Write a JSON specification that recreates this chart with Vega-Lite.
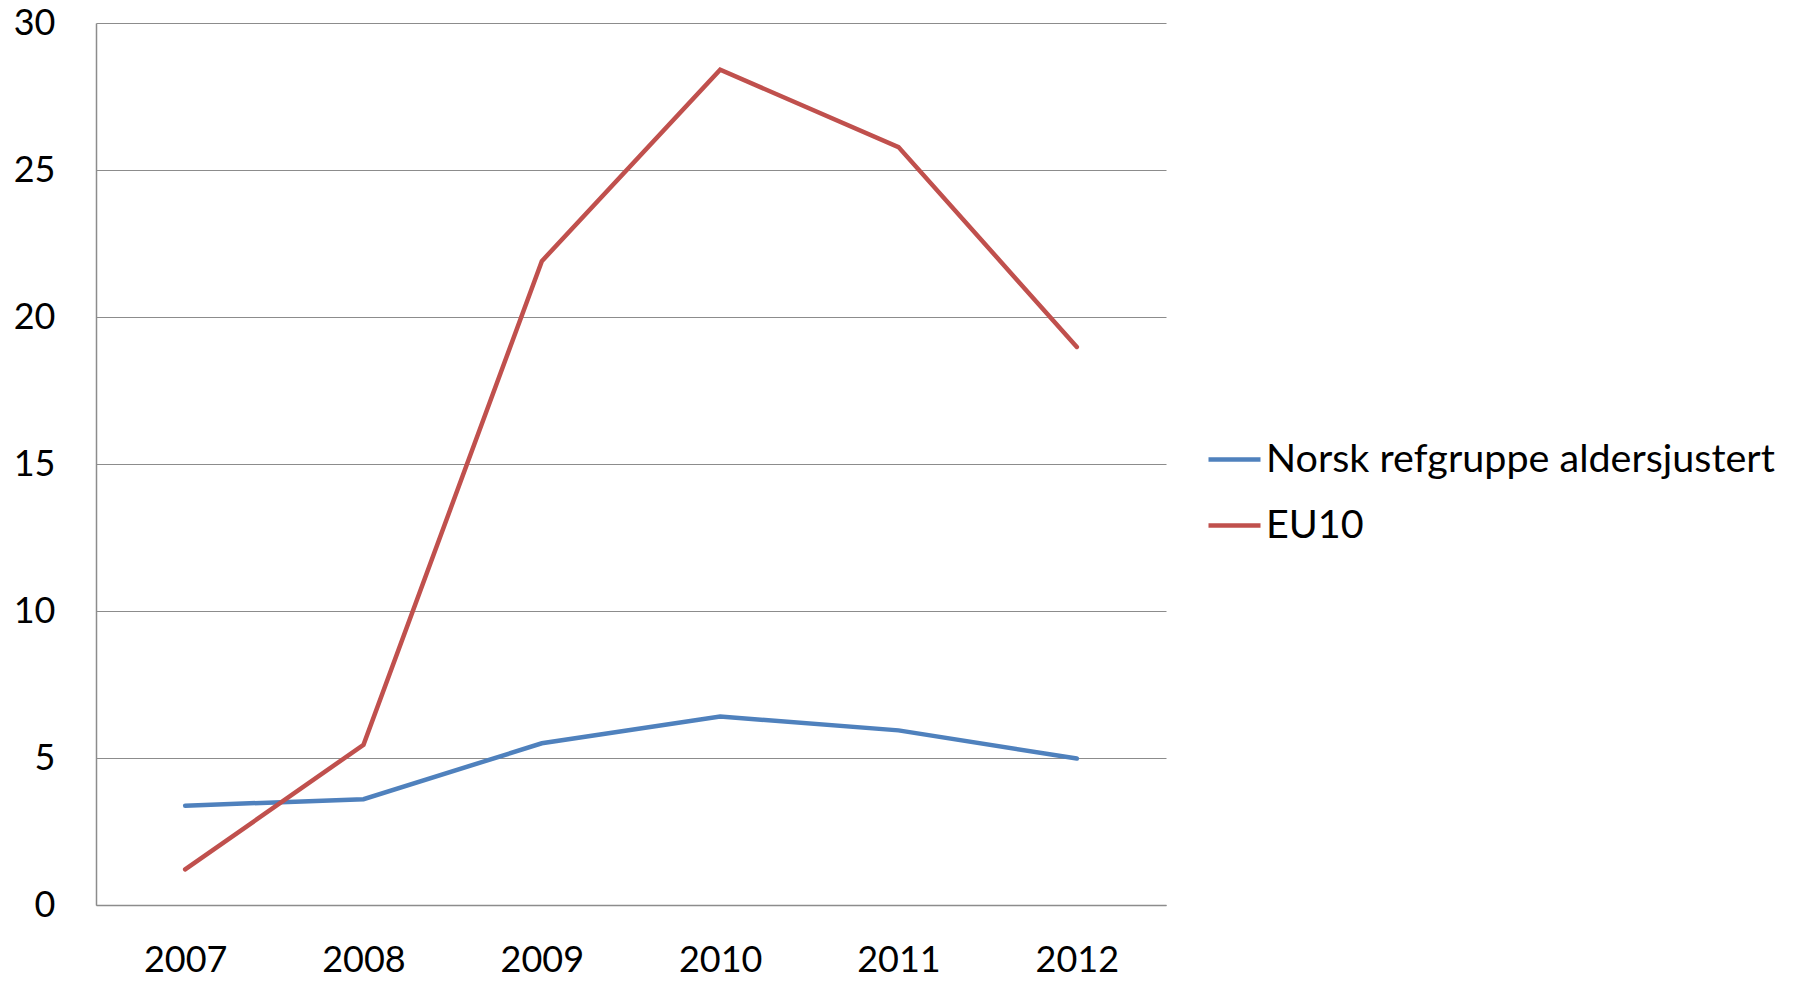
{
  "$schema": "https://vega.github.io/schema/vega-lite/v6.json",
  "autosize": {"type": "none"},
  "padding": {"left": 96, "top": 23, "right": 634, "bottom": 77},
  "width": 1070,
  "height": 882,
  "background": "white",
  "config": {
    "view": {"stroke": null},
    "font": "Lato",
    "axis": {"labelFont": "Lato", "labelFontSize": 36, "labelColor": "#000000", "ticks": false, "tickSize": 0, "title": null},
    "legend": {"labelFont": "Lato", "labelFontSize": 39.5, "labelColor": "#000000", "labelLimit": 0}
  },
  "data": {
    "values": [
      {"year": "2007", "series": "Norsk refgruppe aldersjustert", "value": 3.38},
      {"year": "2008", "series": "Norsk refgruppe aldersjustert", "value": 3.6},
      {"year": "2009", "series": "Norsk refgruppe aldersjustert", "value": 5.5},
      {"year": "2010", "series": "Norsk refgruppe aldersjustert", "value": 6.41},
      {"year": "2011", "series": "Norsk refgruppe aldersjustert", "value": 5.94},
      {"year": "2012", "series": "Norsk refgruppe aldersjustert", "value": 4.98},
      {"year": "2007", "series": "EU10", "value": 1.21},
      {"year": "2008", "series": "EU10", "value": 5.45},
      {"year": "2009", "series": "EU10", "value": 21.9},
      {"year": "2010", "series": "EU10", "value": 28.41},
      {"year": "2011", "series": "EU10", "value": 25.78},
      {"year": "2012", "series": "EU10", "value": 18.98}
    ]
  },
  "mark": {"type": "line", "strokeWidth": 4.5, "strokeCap": "round", "strokeJoin": "miter"},
  "encoding": {
    "x": {
      "field": "year",
      "type": "ordinal",
      "scale": {"type": "point", "padding": 0.5},
      "axis": {"labelAngle": 0, "labelPadding": 38, "domain": true, "domainColor": "#8c8c8c", "domainWidth": 1.5, "grid": false}
    },
    "y": {
      "field": "value",
      "type": "quantitative",
      "scale": {"domain": [0, 30], "nice": false},
      "axis": {"values": [0, 5, 10, 15, 20, 25, 30], "labelPadding": 41, "domain": true, "domainColor": "#8c8c8c", "domainWidth": 1.5, "grid": true, "gridColor": "#8c8c8c", "gridWidth": 1.2}
    },
    "color": {
      "field": "series",
      "type": "nominal",
      "sort": ["Norsk refgruppe aldersjustert", "EU10"],
      "scale": {"domain": ["Norsk refgruppe aldersjustert", "EU10"], "range": ["#4F81BD", "#C0504D"]},
      "legend": {
        "title": null,
        "orient": "none",
        "legendX": 1110,
        "legendY": 408,
        "symbolType": "stroke",
        "symbolSize": 2704,
        "symbolStrokeWidth": 4.5,
        "labelOffset": 3,
        "rowPadding": 18
      }
    }
  }
}
